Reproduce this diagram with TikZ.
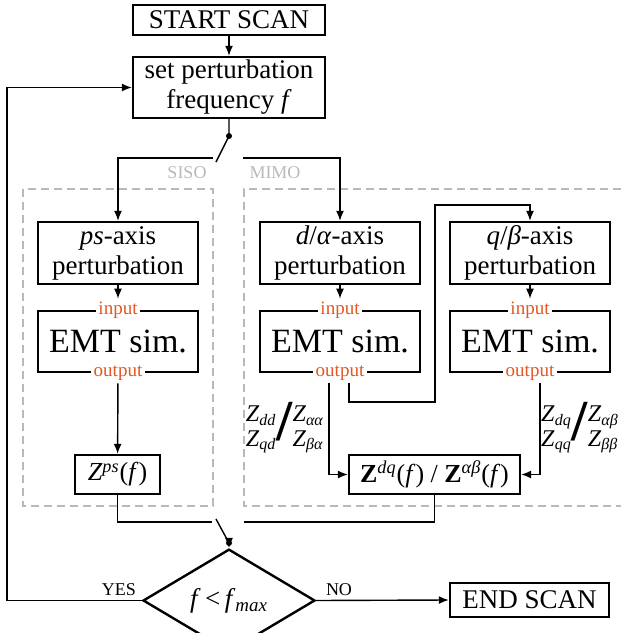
\documentclass[tikz,border=0pt]{standalone}
\usepackage{fontspec}
\setmainfont{Liberation Serif}
\usetikzlibrary{shapes.geometric,arrows.meta}

\definecolor{ioorange}{RGB}{226,88,34}
\definecolor{grpgray}{RGB}{185,185,185}

% italic Z with italic sub/superscript
\newcommand{\zsub}[1]{\textit{Z}\textsubscript{\textit{#1}}}
\newcommand{\zsup}[1]{\textit{Z}\textsuperscript{\textit{#1}}}
% two impedance entries on each side of a tall slash
\newcommand{\zpair}[4]{\renewcommand{\arraystretch}{0.95}%
  \begin{tabular}{@{}r@{}}\zsub{#1}\\\zsub{#2}\end{tabular}%
  \raisebox{-0.5ex}{\fontsize{29}{29}\selectfont\bfseries/}%
  \begin{tabular}{@{}l@{}}\zsub{#3}\\\zsub{#4}\end{tabular}}

\begin{document}
\begin{tikzpicture}[x=0.5pt,y=0.5pt,yscale=-1,
  blk/.style={draw,line width=1.2pt,align=center,inner sep=0pt,font=\fontsize{13.5}{15}\selectfont},
  sim/.style={blk,minimum width=80pt,minimum height=30.5pt,font=\fontsize{17}{19}\selectfont},
  io/.style={fill=white,inner sep=1.2pt,text=ioorange,font=\fontsize{9.5}{10}\selectfont},
  lbl/.style={font=\fontsize{9}{10}\selectfont},
  wire/.style={line width=0.7pt},
  arr/.style={wire,-{Latex[length=5pt,width=4pt]}},
  grp/.style={draw=grpgray,line width=0.8pt,dash pattern=on 4pt off 2.5pt},
  pt/.style={circle,fill,inner sep=0pt,minimum size=3pt}]
\useasboundingbox (0,0) rectangle (621,633);

% SISO / MIMO groups
\draw [grp] (23,189) rectangle (213,506);
\draw [grp] (621,189) -- (244,189) -- (244,506) -- (621,506);
\node [lbl,text=grpgray] (siso) at (187,173) {SISO};
\node [lbl,text=grpgray] (mimo) at (275,173) {MIMO};

\node [blk,minimum width=96pt,minimum height=15pt] (start) at (229,20) {START SCAN};
\node [blk,minimum width=96pt,minimum height=30.5pt] (setf) at (229,87.5) {set perturbation\\frequency \textit{f}};

\node [blk,minimum width=80pt,minimum height=31pt] (ps) at (118,253) {\textit{ps}-axis\\perturbation};
\node [blk,minimum width=80pt,minimum height=31pt] (da) at (340,253) {\textit{d}/\textit{α}-axis\\perturbation};
\node [blk,minimum width=80pt,minimum height=31pt] (qb) at (530,253) {\textit{q}/\textit{β}-axis\\perturbation};

\node [sim] (emtps) at (118,341.5) {EMT sim.};
\node [io] (inps) at (emtps.north) {input};
\node [io] (outps) at (emtps.south) {output};
\node [sim] (emtda) at (340,341.5) {EMT sim.};
\node [io] (inda) at (emtda.north) {input};
\node [io] (outda) at (emtda.south) {output};
\node [sim] (emtqb) at (530,341.5) {EMT sim.};
\node [io] (inqb) at (emtqb.north) {input};
\node [io] (outqb) at (emtqb.south) {output};

\node [blk,minimum width=42.5pt,minimum height=19.5pt,font=\fontsize{13}{14}\selectfont] (zps) at (117.5,474.5) {\zsup{ps}(\textit{f})};
\node [blk,minimum width=85.5pt,minimum height=19.5pt,font=\fontsize{13}{14}\selectfont] (zdq) at (434.5,474.5) {\textbf{Z}\textsuperscript{\textit{dq}}(\textit{f}) / \textbf{Z}\textsuperscript{\textit{αβ}}(\textit{f})};

\node [font=\fontsize{12}{13}\selectfont] (zl) at (285,428) {\zpair{dd}{qd}{αα}{βα}};
\node [font=\fontsize{12}{13}\selectfont] (zr) at (580,428) {\zpair{dq}{qq}{αβ}{ββ}};

\node [blk,shape=diamond,minimum width=86pt,minimum height=31.5pt,font=\fontsize{13.5}{14}\selectfont] (chk) at (229,600.5) {\textit{f}\,<\,\textit{f}\textsubscript{\textit{max}}};
\node [blk,minimum width=79.5pt,minimum height=17pt] (stop) at (529.5,600) {END SCAN};
\node [lbl] (yes) at (119,590) {YES};
\node [lbl] (no) at (339,590) {NO};

% upper switch
\node [pt] (topdot) at (229,136) {};
\coordinate (tblade) at (216,162);
\coordinate (tl) at (213,158);
\coordinate (tr) at (243,158);
\draw [arr] (start) -- (setf);
\draw [wire] (setf) -- (topdot.center) -- (tblade);
\draw [arr] (tl) -| (ps);
\draw [arr] (tr) -| (da);

\draw [arr] (ps) -- (inps);
\draw [arr] (da) -- (inda);
\draw [arr] (qb) -- (inqb);
\draw [arr] (outps) -- (zps);

% d axis result feeds the q axis run
\coordinate (lpa) at (435,402);
\coordinate (lpb) at (435,205);
\draw [arr] ([xshift=4.5pt]outda.south) |- (lpa) -- (lpb) -| (qb);
\draw [arr] ([xshift=-5.5pt]outda.south) |- (zdq.west);
\draw [arr] ([xshift=5pt]outqb.south) |- (zdq.east);

% lower switch
\node [pt] (botdot) at (229,543) {};
\coordinate (bblade) at (216,519);
\coordinate (bl) at (212,522);
\coordinate (br) at (244,522);
\draw [wire] (zps) |- (bl);
\draw [wire] (zdq) |- (br);
\draw [wire] (bblade) -- (botdot.center);
\draw [arr] (botdot) -- (chk);

\coordinate (lft) at (7,600.5);
\draw [arr] (chk.west) -- (lft) |- (setf);
\draw [arr] (chk.east) -- (stop.west);

\end{tikzpicture}
\end{document}
